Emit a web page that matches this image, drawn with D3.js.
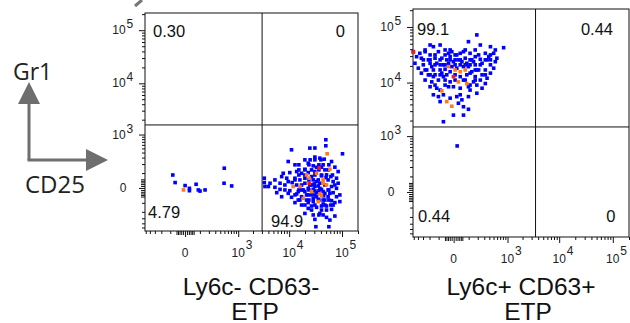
<!DOCTYPE html>
<html>
<head>
<meta charset="utf-8">
<script src="https://cdn.jsdelivr.net/npm/d3@7"></script>
<style>
body { margin: 0; background: #fff; }
svg { display: block; }
</style>
</head>
<body>
<div id="viz"></div>
<script>
// flow data, fluorescence units [CD25, Gr1]
var negBlue = [
  [49500,776],[49500,573],[24700,508],[30750,510],[11100,464],[102000,373],[30750,309],[38200,290],
  [46100,273],[9600,236],[63500,236],[15300,190],[23000,212],[28600,177],[19900,138],[44000,190],
  [73300,161],[84500,114],[13900,114],[10300,104],[7700,98],[17200,98],[41000,76],[51000,84],
  [61600,70],[78800,58],[26600,70],[12900,58],[9000,58],[7200,70],[5350,46],[3330,58],
  [16000,46],[35600,46],[54600,46],[68000,35],[9600,35],[11400,29],[19900,25],[29900,21],
  [84500,25],[3330,29],[4300,25],[6700,25],[8300,15],[13900,15],[17200,15],[35600,10],
  [63500,7],[78800,-2],[3430,7],[4000,7],[5350,3],[23000,-2],[28600,-7],[41000,-7],
  [54600,-10],[6700,-7],[8300,-10],[10300,-14],[19900,-19],[33100,-25],[47500,-29],[68000,-25],
  [91000,-39],[5800,-25],[9600,-29],[13900,-33],[23000,-39],[17200,-51],[54600,-51],[78800,-51],
  [7200,-51],[11100,-55],[14900,-76],[28600,-63],[35600,-70],[47500,-76],[63500,-81],[91000,-89],
  [12900,-98],[23000,-98],[44000,-111],[73300,-98],[17200,-121],[26600,-131],[51000,-131],[33100,-145],
  [23000,-157],[41000,-177],[63500,-169],[73300,-262],[51000,-284],[30750,-320],[59000,-333],[32100,-480],
  [56500,-480],[19900,-222],[38200,-222],[26600,131],[30750,114],[23000,104],[28600,46],[33100,35],
  [38200,25],[30750,7],[24700,15],[38200,-2],[44000,-19],[33100,-51],[26600,-39],[21400,-76],
  [45000,-45],[28600,-89],[41000,-131],[18500,-10],[50000,62],[19900,58],[59000,-29],[14900,-19],
  [73300,15],
  [12900,190],[15300,131],[19900,262],[23700,190],[30750,262],[36600,190],[47500,131],[56500,190],
  [15300,83],[19900,131],[23700,46],[30750,83],[36600,131],[41000,160],[47500,15],[56500,-10],
  [12900,-39],[15300,-10],[19900,-121],[23700,-10],[30750,-39],[36600,-76],[47500,-121],[56500,-76],
  [68000,-121],[12900,46],[19900,83],[26600,-177],[36600,-245],[44000,-245],[30750,-121],[23700,-76],
  [41000,83],[33100,160],[26600,15],[21400,-39],[17200,-10],[44000,-76],[36600,-15],[30750,-15],
  [51000,-177],[28600,-245],[61600,-121],[16000,-76],[25000,262],[40000,262],[54600,131],[66000,83],
  [-78,83],[-60,29],[0,12],[23,-2],[23,-14],[68,19],[86,-10],[101,-16],[153,-10],[496,149],[490,25],[726,10]
];
var negOrange = [
  [52400,373],[59000,138],[33100,98],[21400,84],[24000,58],[44000,46],[44000,25],[51000,15],
  [11900,7],[16000,7],[26600,-19],[38200,-33],[41000,-46],[18500,-63],[35600,-89],[-8,-10]
];
var negRed = [[37100,149],[24000,25]];

var posBlue = [
  [188,72000],[98,54500],[424,44300],[830,42500],[-513,36000],[-265,36000],[-153,44300],[-87,47500],
  [-49,38700],[-9,36000],[16,31500],[36,33700],[58,36000],[113,33700],[168,29300],[212,31500],
  [319,33700],[504,33700],[594,27500],[-430,29300],[-330,27500],[-216,25700],[-135,27500],[-73,27500],
  [-38,25700],[-18,29300],[-1,23800],[25,25700],[71,27500],[130,25700],[236,26300],[352,25700],
  [548,23800],[-470,22300],[-295,20900],[-193,22300],[-118,22300],[-61,20900],[98,19400],[168,20900],
  [263,22300],[424,20900],[504,18200],[-392,18200],[-240,16900],[-153,16900],[-87,16900],[-49,17400],
  [-18,15700],[16,18200],[130,15700],[212,16900],[319,16900],[424,14800],[-330,14800],[-216,13800],
  [-135,13800],[-73,14800],[-38,13800],[36,12800],[84,13800],[168,12800],[263,13800],[352,12000],
  [-265,11100],[-172,10300],[-102,11100],[-49,11100],[-18,10300],[58,11100],[149,10300],[236,11100],
  [319,9600],[-193,8400],[-118,7900],[-27,8400],[-1,8400],[36,7900],[98,8400],[188,9000],
  [263,7900],[-153,6000],[-102,5550],[-61,6000],[-18,5200],[16,5550],[47,4850],[98,5550],
  [188,6400],[-87,4500],[25,4200],[58,3620],[98,3250],[-1,2530],[58,2530],[-61,1900],
  [-193,31500],[-102,36000],[-27,33700],[7,25700],[47,23800],[84,22300],[-9,19400],[58,19400],
  [-87,20900],[-172,19400],[-27,22300],[7,13800],[113,14800],[188,16900],[-295,25700],[-360,33700],
  [388,29300],[-61,12800],[149,23800],[-153,12800],
  [-265,38700],[-193,47500],[-135,31500],[-87,25700],[-49,31500],[-18,38700],[7,31500],[36,25700],
  [71,38700],[113,25700],[168,38700],[236,47500],[319,25700],[424,31500],[548,38700],
  [-265,16900],[-193,13800],[-135,20900],[-87,13800],[-49,20900],[-18,25700],[7,20900],[36,20900],
  [71,20900],[113,20900],[168,16900],[236,20900],[319,13800],[424,25700],
  [-135,9000],[-49,9000],[7,11100],[71,11100],[113,9000],[168,11100],[-87,7300],[36,6000],
  [113,7300],[-193,25700],
  [18,630]
];
var posOrange = [
  [-27,19400],[7,16900],[36,15700],[71,16900],[25,10300],[84,9600],[-73,7100],[-38,4500],[-9,3700]
];
var posRed = [[-1,12800],[-508,35600]];

// quadrant gates and percentages (UL, UR, LL, LR)
var negGate = [3020, 1570];
var posGate = [3570, 1510];
var negQuad = ["0.30", "0", "4.79", "94.9"];
var posQuad = ["99.1", "0.44", "0.44", "0"];

var xDomain = [-520, 200000];
var yDomain = [-600, 210000];
var majorTicks = [0, 1e3, 1e4, 1e5];
var minorTicks = [-500,-400,-300,-200,-100,100,200,300,400,500,600,700,800,900,
  2e3,3e3,4e3,5e3,6e3,7e3,8e3,9e3,2e4,3e4,4e4,5e4,6e4,7e4,8e4,9e4,2e5];
var zeroTicks = [-50,-40,-30,-20,-10,10,20,30,40,50];

var svg = d3.select("#viz")
    .append("svg")
    .attr("width", 630)
    .attr("height", 323);

var font = "'Liberation Sans', Arial, sans-serif";
var grey = "#6e6e6e";

// stray arrow tip at the top edge
svg.append("line")
    .attr("x1", 135).attr("y1", 6).attr("x2", 142).attr("y2", 0)
    .style("stroke", "#777").style("stroke-width", 3);

// Gr1 / CD25 orientation arrows
svg.append("line").attr("x1", 29).attr("y1", 160).attr("x2", 29).attr("y2", 100)
    .style("stroke", grey).style("stroke-width", 3);
svg.append("line").attr("x1", 27.5).attr("y1", 160).attr("x2", 90).attr("y2", 160)
    .style("stroke", grey).style("stroke-width", 3);
svg.append("path").attr("d", "M29,82 L18,104 L40,104 Z").style("fill", grey);
svg.append("path").attr("d", "M108,160 L86,149 L86,171 Z").style("fill", grey);
svg.append("text").attr("x", 13).attr("y", 80).text("Gr1")
    .style("font-family", "'Open Sans', sans-serif").style("font-size", "23px").style("fill", "#222");
svg.append("text").attr("x", 25).attr("y", 193).text("CD25")
    .style("font-family", "'Open Sans', sans-serif").style("font-size", "24px").style("fill", "#222");

function drawPanel(p, blue, orange, red, gate, quad, title) {
    var x = d3.scaleSymlog().constant(111).domain(xDomain).range([p.x0, p.x1]);
    var y = d3.scaleSymlog().constant(111).domain(yDomain).range([p.y1, p.y0]);
    var g = svg.append("g");

    g.append("rect")
        .attr("x", p.x0).attr("y", p.y0)
        .attr("width", p.x1 - p.x0).attr("height", p.y1 - p.y0)
        .style("fill", "none").style("stroke", "#111");
    g.append("line")
        .attr("x1", x(gate[0])).attr("x2", x(gate[0]))
        .attr("y1", p.y0).attr("y2", p.y1)
        .style("stroke", "#111");
    g.append("line")
        .attr("x1", p.x0).attr("x2", p.x1)
        .attr("y1", y(gate[1])).attr("y2", y(gate[1]))
        .style("stroke", "#111");

    [[blue, "#0000ff"], [orange, "#ff7a1a"], [red, "#ff1a00"]].forEach(function(s) {
        g.append("g").selectAll("rect")
            .data(s[0])
            .enter()
            .append("rect")
            .attr("x", function(d) { return x(d[0]) - 1.8; })
            .attr("y", function(d) { return y(d[1]) - 1.8; })
            .attr("width", 3.6)
            .attr("height", 3.6)
            .style("fill", s[1]);
    });

    var inX = function(v) { return v >= xDomain[0] && v <= xDomain[1]; };
    var inY = function(v) { return v >= yDomain[0] && v <= yDomain[1]; };

    // ticks: minor, zero cluster, major
    var yAx = g.append("g").attr("transform", "translate(" + p.x0 + ",0)");
    var xAx = g.append("g").attr("transform", "translate(0," + p.y1 + ")");
    [[minorTicks, 3], [zeroTicks, 4], [majorTicks, 6]].forEach(function(t) {
        var ya = yAx.append("g").call(d3.axisLeft(y).tickValues(t[0].filter(inY))
            .tickSize(t[1]).tickSizeOuter(0).tickFormat(""));
        ya.select(".domain").remove();
        var xa = xAx.append("g").call(d3.axisBottom(x).tickValues(t[0].filter(inX))
            .tickSize(t[1]).tickSizeOuter(0).tickFormat(""));
        xa.select(".domain").remove();
    });
    g.selectAll(".tick line").style("stroke", "#111");

    majorTicks.forEach(function(v, i) {
        var ty = y(v), tx = x(v);
        if (v === 0) {
            g.append("text").attr("x", p.x0 - 22).attr("y", ty + 4).text("0")
                .attr("text-anchor", "middle").attr("class", "tl");
            g.append("text").attr("x", tx).attr("y", p.y1 + 26).text("0")
                .attr("text-anchor", "middle").attr("class", "tl");
        } else {
            g.append("text").attr("x", p.x0 - 26).attr("y", ty + 4).text("10")
                .attr("text-anchor", "middle").attr("class", "tl");
            g.append("text").attr("x", p.x0 - 18.5).attr("y", ty - 2).text(i + 2)
                .attr("class", "tl");
            g.append("text").attr("x", tx).attr("y", p.y1 + 26).text("10")
                .attr("text-anchor", "middle").attr("class", "tl");
            g.append("text").attr("x", tx + 7.5).attr("y", p.y1 + 18).text(i + 2)
                .attr("class", "tl");
        }
    });
    g.selectAll(".tl").style("font-family", font).style("font-size", "12px").style("fill", "#222");

    var gx = x(gate[0]);
    var qpos = [
        [p.q[0][0], p.q[0][1], "start"],
        [p.q[1][0], p.q[1][1], "end"],
        [p.q[2][0], p.q[2][1], "start"],
        [gx + p.q[3][0], p.q[3][1], p.q[3][2]]
    ];
    quad.forEach(function(s, i) {
        g.append("text").attr("x", qpos[i][0]).attr("y", qpos[i][1])
            .attr("text-anchor", qpos[i][2]).text(s)
            .style("font-family", font).style("font-size", "16.5px").style("fill", "#111");
    });

    title.forEach(function(s, i) {
        g.append("text").attr("x", p.tx[i]).attr("y", 295 + i * 24.5)
            .attr("text-anchor", "middle").text(s)
            .style("font-family", font).style("font-size", "24.5px").style("fill", "#111");
    });
}

drawPanel({x0: 145, x1: 358, y0: 13, y1: 231,
           q: [[153, 37], [345, 37], [148, 218], [9, 227, "start"]], tx: [251, 255]},
          negBlue, negOrange, negRed, negGate, negQuad, ["Ly6c- CD63-", "ETP"]);
drawPanel({x0: 413, x1: 629, y0: 9, y1: 237,
           q: [[417, 35], [613, 35], [418, 222], [80, 222, "end"]], tx: [521, 528]},
          posBlue, posOrange, posRed, posGate, posQuad, ["Ly6c+ CD63+", "ETP"]);
</script>
</body>
</html>
